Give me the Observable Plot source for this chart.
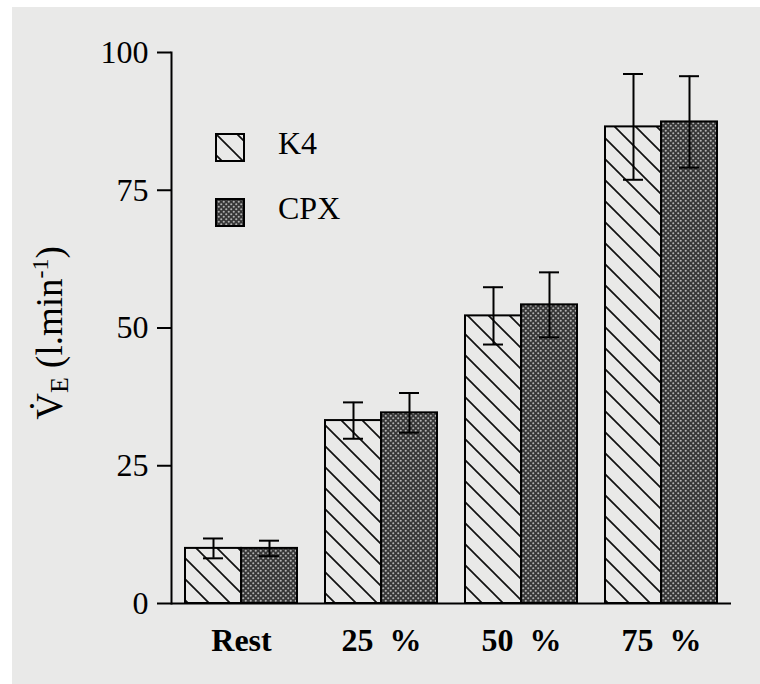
<!DOCTYPE html>
<html>
<head>
<meta charset="utf-8">
<script src="https://cdn.jsdelivr.net/npm/d3@7"></script>
<script src="https://cdn.jsdelivr.net/npm/@observablehq/plot@0.6"></script>
<style>
  html, body { margin: 0; padding: 0; background: #fff; }
  #wrap { position: relative; width: 760px; height: 684px; background: #fff; overflow: hidden; }
  #chart { position: absolute; left: 12px; top: 7px; }
  #legend { position: absolute; left: 205px; top: 113px; overflow: visible; }
</style>
</head>
<body>
<div id="wrap">
  <div id="chart"></div>
  <svg id="legend" width="220" height="140"></svg>
</div>
<script>
// ---- data ----
const categories = ["Rest", "25 %", "50 %", "75 %"];
const series = ["K4", "CPX"];
const k4Mean = [10.0, 33.2, 52.2, 86.5];
const k4Err = [1.8, 3.3, 5.2, 9.6];
const cpxMean = [10.0, 34.6, 54.2, 87.4];
const cpxErr = [1.4, 3.6, 5.9, 8.3];
const yTicks = [0, 25, 50, 75, 100];

const paper = "#e9e9e8";
const W = 748, H = 677, mL = 159, mR = 29, mT = 45, mB = 81;
const pInner = 0.2, pOuter = 0.1;
const step = (W - mL - mR) / (categories.length - pInner + 2 * pOuter);
const bw = step * (1 - pInner);   // band width holding both bars
const half = bw / 2;
const capW = 20;

const k4 = categories.map((c, i) => ({category: c, series: "K4", mean: k4Mean[i], err: k4Err[i]}));
const cpx = categories.map((c, i) => ({category: c, series: "CPX", mean: cpxMean[i], err: cpxErr[i]}));

const fills = {K4: "url(#hatchK4)", CPX: "url(#dotsCPX)"};

function errMarks(data, dx) {
  const inset = (bw - capW) / 2;
  return [
    Plot.ruleX(data, {x: "category", y1: d => d.mean - d.err, y2: d => d.mean + d.err, dx, stroke: "#000", strokeWidth: 2}),
    Plot.tickY(data, {x: "category", y: d => d.mean + d.err, dx, insetLeft: inset, insetRight: inset, stroke: "#000", strokeWidth: 2}),
    Plot.tickY(data, {x: "category", y: d => d.mean - d.err, dx, insetLeft: inset, insetRight: inset, stroke: "#000", strokeWidth: 2})
  ];
}

const svg = Plot.plot({
  width: W, height: H,
  marginLeft: mL, marginRight: mR, marginTop: mT, marginBottom: mB,
  style: {background: paper, fontFamily: "'Liberation Serif', 'Times New Roman', serif", fontSize: "31px", color: "#000"},
  x: {domain: categories, paddingInner: pInner, paddingOuter: pOuter, label: null},
  y: {domain: [0, 100], label: null},
  marks: [
    Plot.barY(k4, {x: "category", y: "mean", fill: fills.K4, stroke: "#000", strokeWidth: 2, insetRight: half}),
    Plot.barY(cpx, {x: "category", y: "mean", fill: fills.CPX, stroke: "#000", strokeWidth: 2, insetLeft: half}),
    ...errMarks(k4, -half / 2),
    ...errMarks(cpx, half / 2),
    Plot.ruleY([0], {stroke: "#000", strokeWidth: 2}),
    Plot.frame({anchor: "left", stroke: "#000", strokeWidth: 2}),
    Plot.axisY({ticks: yTicks, tickSize: 14, tickPadding: 9, strokeWidth: 2, fontSize: 32, label: null}),
    Plot.axisX({tickSize: 0, tickPadding: 25, fontSize: 32, fontWeight: "bold", label: null,
                tickFormat: d => d.replace(" ", "\u2002")})
  ]
});
document.getElementById("chart").appendChild(svg);

// patterns
function addDefs(node) {
  const defs = d3.select(node).insert("defs", ":first-child");
  const h = defs.append("pattern").attr("id", "hatchK4").attr("patternUnits", "userSpaceOnUse")
    .attr("width", 21).attr("height", 21);
  h.append("rect").attr("width", 21).attr("height", 21).attr("fill", paper);
  h.append("path").attr("d", "M0,0L21,21M-5,16L5,26M16,-5L26,5").attr("stroke", "#111").attr("stroke-width", 1.7);
  const p = defs.append("pattern").attr("id", "dotsCPX").attr("patternUnits", "userSpaceOnUse")
    .attr("width", 5).attr("height", 5);
  p.append("rect").attr("width", 5).attr("height", 5).attr("fill", "#363636");
  p.append("circle").attr("cx", 1.25).attr("cy", 1.25).attr("r", 1.05).attr("fill", "#b0b0b0");
  p.append("circle").attr("cx", 3.75).attr("cy", 3.75).attr("r", 1.05).attr("fill", "#b0b0b0");
}
addDefs(svg);

// y axis label
const yl = d3.select(svg).append("text")
  .attr("transform", "translate(50,326) rotate(-90)")
  .attr("text-anchor", "middle")
  .attr("font-size", 37)
  .attr("fill", "#000");
yl.append("tspan").text("V\u0307");
yl.append("tspan").attr("font-size", 26).attr("dy", 6).text("E");
yl.append("tspan").attr("dy", -6).text(" (l.min");
yl.append("tspan").attr("font-size", 24).attr("dy", -14).text("-1");
yl.append("tspan").attr("dy", 14).text(")");

// legend
const lg = d3.select("#legend");
lg.style("font-family", "'Liberation Serif', 'Times New Roman', serif");
series.forEach((s, i) => {
  const g = lg.append("g").attr("transform", `translate(10,${20 + i * 65})`);
  g.append("rect").attr("x", 1).attr("y", 1).attr("width", 28).attr("height", 27)
    .attr("fill", fills[s]).attr("stroke", "#000").attr("stroke-width", 2);
  g.append("text").attr("x", 63).attr("y", 21).attr("font-size", 32).attr("fill", "#000").text(s);
});
</script>
</body>
</html>
